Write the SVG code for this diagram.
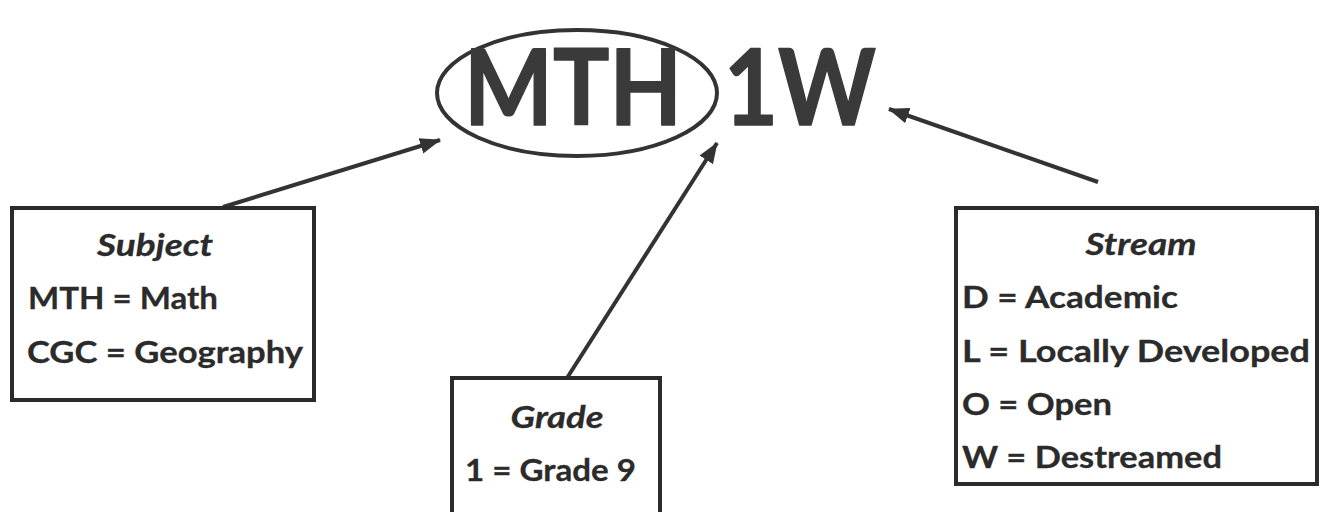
<svg xmlns="http://www.w3.org/2000/svg" width="1320" height="512" viewBox="0 0 1320 512">
<defs>
<style>
.box{fill:#fff;stroke:#2b2b2b;stroke-width:4}
.t{font-family:Lato,"Open Sans",sans-serif;font-weight:bold;font-size:31px;fill:#2b2b2b;stroke:#2b2b2b;stroke-width:0.3}
.h{font-style:italic}
.big{font-family:Lato,"Open Sans",sans-serif;font-weight:bold;font-size:106px;fill:#3a3a3a;stroke:#3a3a3a;stroke-width:1.5;stroke-linejoin:round}
.c{stroke:#333;stroke-width:4;fill:none;marker-end:url(#ah)}
</style>
<marker id="ah" markerUnits="userSpaceOnUse" markerWidth="22" markerHeight="18" refX="20" refY="9" orient="auto">
<path d="M0,1 L21,9 L0,17 Z" fill="#333"/>
</marker>
</defs>
<rect width="1320" height="512" fill="#fff"/>
<g id="code">
<ellipse cx="577" cy="93" rx="140" ry="63" fill="none" stroke="#333" stroke-width="4"/>
<text class="big" x="464" y="125" textLength="218" lengthAdjust="spacingAndGlyphs">MTH</text>
<text class="big" x="724" y="125" textLength="152" lengthAdjust="spacingAndGlyphs">1W</text>
</g>
<g id="connectors">
<line class="c" x1="223" y1="207" x2="440" y2="140"/>
<line class="c" x1="567" y1="378" x2="717" y2="143"/>
<line class="c" x1="1098" y1="182" x2="889" y2="109"/>
</g>
<g id="subject">
<rect class="box" x="12" y="208" width="302" height="192"/>
<text class="t h" x="155" y="256" text-anchor="middle" textLength="116" lengthAdjust="spacingAndGlyphs">Subject</text>
<text class="t" x="28" y="309" textLength="190" lengthAdjust="spacingAndGlyphs">MTH = Math</text>
<text class="t" x="27" y="363" textLength="276" lengthAdjust="spacingAndGlyphs">CGC = Geography</text>
</g>
<g id="grade">
<rect class="box" x="452" y="378" width="208" height="150"/>
<text class="t h" x="557" y="428" text-anchor="middle" textLength="93" lengthAdjust="spacingAndGlyphs">Grade</text>
<text class="t" x="465" y="481" textLength="171" lengthAdjust="spacingAndGlyphs">1 = Grade 9</text>
</g>
<g id="stream">
<rect class="box" x="956" y="208" width="361" height="276"/>
<text class="t h" x="1141" y="255" text-anchor="middle" textLength="111" lengthAdjust="spacingAndGlyphs">Stream</text>
<text class="t" x="962" y="308" textLength="216" lengthAdjust="spacingAndGlyphs">D = Academic</text>
<text class="t" x="962" y="362" textLength="348" lengthAdjust="spacingAndGlyphs">L = Locally Developed</text>
<text class="t" x="962" y="415" textLength="150" lengthAdjust="spacingAndGlyphs">O = Open</text>
<text class="t" x="962" y="468" textLength="260" lengthAdjust="spacingAndGlyphs">W = Destreamed</text>
</g>
</svg>
